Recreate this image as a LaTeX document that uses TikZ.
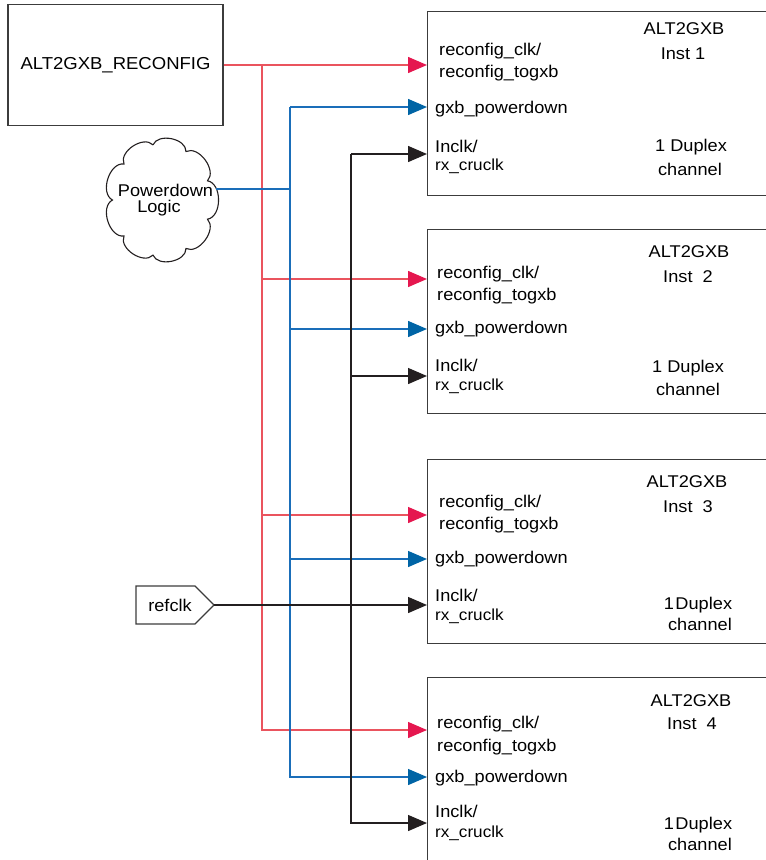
\documentclass[tikz,border=0pt]{standalone}
\usepackage{fontspec}
\setmainfont{Liberation Sans}[FakeStretch=1.07]
\usetikzlibrary{arrows.meta}
\definecolor{redln}{RGB}{234,84,94}
\definecolor{redhd}{RGB}{229,23,79}
\definecolor{blueln}{RGB}{26,110,185}
\definecolor{bluehd}{RGB}{0,100,165}
\definecolor{blkln}{RGB}{35,31,32}
\definecolor{boxln}{RGB}{60,60,60}
\begin{document}
\begin{tikzpicture}[x=1pt,y=-1pt,
  txt/.style={inner sep=0pt,font=\fontsize{17}{17}\selectfont},
  lbl/.style={txt,anchor=base west},
  ttl/.style={txt,anchor=base},
  small/.style={inner sep=0pt,anchor=base west,font=\fontsize{16}{16}\selectfont},
  instbox/.style={draw=boxln,line width=1.4pt,anchor=north west,inner sep=0pt,minimum width=365,minimum height=184},
  redw/.style={draw=redln,line width=1.4pt},
  bluew/.style={draw=blueln,line width=1.4pt},
  blkw/.style={draw=blkln,line width=1.4pt},
  redarr/.style={redw,-{Triangle[length=19pt,width=16pt,color=redhd]}},
  bluearr/.style={bluew,-{Triangle[length=19pt,width=16pt,color=bluehd]}},
  blkarr/.style={blkw,-{Triangle[length=19pt,width=16pt,color=blkln]}},
  puff/.style={bend left=80},
]
\useasboundingbox (0,0) rectangle (766,860);
\clip (0,0) rectangle (766,860);

% source blocks
\node[draw=boxln,line width=1.4pt,minimum width=215,minimum height=121,inner sep=0pt,font=\fontsize{17.3}{17}\selectfont] (reconfig) at (115.5,65) {\raisebox{-1.5pt}{ALT2GXB\_RECONFIG}};

% cloud
\coordinate (q1) at (153.0,144.9);
\coordinate (q2) at (186.0,151.5);
\coordinate (q3) at (207.5,180.8);
\coordinate (q4) at (207.5,219.2);
\coordinate (q5) at (186.0,248.5);
\coordinate (q6) at (153.0,255.1);
\coordinate (q7) at (124.0,236.0);
\coordinate (q8) at (112.5,200);
\coordinate (q9) at (124.0,164.0);
\draw[blkln,line width=1.1pt] (q1) to[puff] (q2) to[puff] (q3) to[puff] (q4) to[puff] (q5) to[puff] (q6) to[puff] (q7) to[puff] (q8) to[puff] (q9) to[puff] (q1);
\node[txt,anchor=base] (pd1) at (165.5,196) {Powerdown};
\node[txt,anchor=base] (pd2) at (159,212) {Logic};

\node[txt] (refclk) at (170,605) {refclk};
\draw[boxln,line width=1.2pt] (136,586) -- (195,586) -- (214,605) -- (195,624) -- (136,624) -- cycle;

% instance boxes
\node[instbox] (inst1) at (427,11) {};
\node[instbox] (inst2) at (427,229) {};
\node[instbox] (inst3) at (427,459) {};
\node[instbox,minimum height=220] (inst4) at (427,677) {};

% labels box 1
\node[ttl] (a1) at (684,34) {ALT2GXB};
\node[ttl] (n1) at (683,59) {Inst 1};
\node[lbl] (rc1) at (439,55) {reconfig\_clk/};
\node[lbl] (rt1) at (439,77) {reconfig\_togxb};
\node[lbl] (gp1) at (435,113) {gxb\_powerdown};
\node[lbl] (ic1) at (435,152) {Inclk/};
\node[small] (rx1) at (435,170) {rx\_cruclk};
\node[ttl] (d1) at (691,151) {1 Duplex};
\node[ttl] (c1) at (690,175) {channel};
% labels box 2
\node[ttl] (a2) at (689,257) {ALT2GXB};
\node[ttl] (n2) at (688,282) {Inst\ \ 2};
\node[lbl] (rc2) at (437,278) {reconfig\_clk/};
\node[lbl] (rt2) at (437,300) {reconfig\_togxb};
\node[lbl] (gp2) at (435,333) {gxb\_powerdown};
\node[lbl] (ic2) at (435,371) {Inclk/};
\node[small] (rx2) at (435,390) {rx\_cruclk};
\node[ttl] (d2) at (688,372) {1 Duplex};
\node[ttl] (c2) at (688,395) {channel};
% labels box 3
\node[ttl] (a3) at (687,487) {ALT2GXB};
\node[ttl] (n3) at (688,512) {Inst\ \ 3};
\node[lbl] (rc3) at (439,507) {reconfig\_clk/};
\node[lbl] (rt3) at (439,529) {reconfig\_togxb};
\node[lbl] (gp3) at (435,563) {gxb\_powerdown};
\node[lbl] (ic3) at (435,601) {Inclk/};
\node[small] (rx3) at (435,620) {rx\_cruclk};
\node[ttl] (d3) at (698,609) {1\kern1.5pt Duplex};
\node[ttl] (c3) at (700,630) {channel};
% labels box 4
\node[ttl] (a4) at (691,706) {ALT2GXB};
\node[ttl] (n4) at (692,729) {Inst\ \ 4};
\node[lbl] (rc4) at (437,728) {reconfig\_clk/};
\node[lbl] (rt4) at (437,751) {reconfig\_togxb};
\node[lbl] (gp4) at (435,782) {gxb\_powerdown};
\node[lbl] (ic4) at (435,817) {Inclk/};
\node[small] (rx4) at (435,837) {rx\_cruclk};
\node[ttl] (d4) at (698,829) {1\kern1.5pt Duplex};
\node[ttl] (c4) at (700,850) {channel};

% port coordinates
\coordinate (pr2) at (427,279);
\coordinate (pr3) at (427,515);
\coordinate (pr4) at (427,730);
\coordinate (pb1) at (427,107);
\coordinate (pb2) at (427,329);
\coordinate (pb3) at (427,559);
\coordinate (pb4) at (427,777);
\coordinate (pk1) at (427,154);
\coordinate (pk2) at (427,376);
\coordinate (pk3) at (427,605);
\coordinate (pk4) at (427,823);
% trunk points
\coordinate (rtop) at (262,66);
\coordinate (rj2) at (262,279);
\coordinate (rj3) at (262,515);
\coordinate (btop) at (290,107);
\coordinate (bj2) at (290,329);
\coordinate (bj3) at (290,559);
\coordinate (bjc) at (290,189);
\coordinate (cout) at (216,189);
\coordinate (ktop) at (351,154);
\coordinate (kj2) at (351,376);
\coordinate (reftip) at (214,605);

% red
\draw[redarr] (reconfig.east) -- (reconfig.east -| inst1.west);
\draw[redarr] (rtop) |- (pr4);
\draw[redarr] (rj2) -- (pr2);
\draw[redarr] (rj3) -- (pr3);
% blue
\draw[bluearr] (btop) -- (pb1);
\draw[bluearr] (btop) |- (pb4);
\draw[bluearr] (bj2) -- (pb2);
\draw[bluearr] (bj3) -- (pb3);
\draw[bluew] (cout) -- (bjc);
% black
\draw[blkarr] (ktop) -- (pk1);
\draw[blkarr] (ktop) |- (pk4);
\draw[blkarr] (kj2) -- (pk2);
\draw[blkarr] (reftip) -- (pk3);
\end{tikzpicture}
\end{document}
